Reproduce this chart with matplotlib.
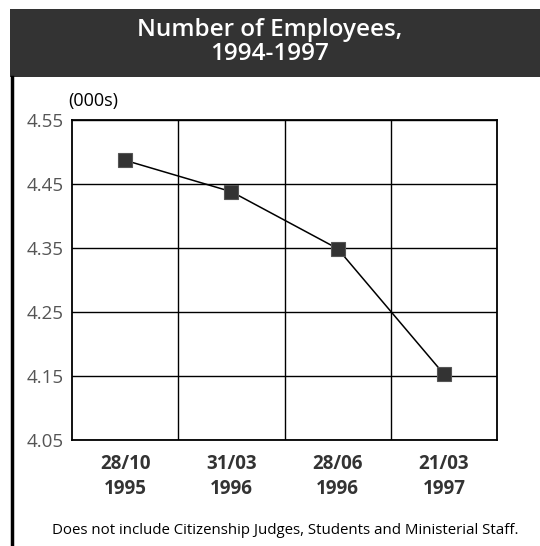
import matplotlib
matplotlib.use("Agg")
from matplotlib import pyplot as plt
from matplotlib.patches import Rectangle
from matplotlib.lines import Line2D

plt.rcParams['font.family'] = ['Open Sans', 'DejaVu Sans']

# staff counts in thousands
dates = ['28/10\n1995', '31/03\n1996', '28/06\n1996', '21/03\n1997']
employees = [4.487, 4.438, 4.349, 4.153]
y_ticks = [4.05, 4.15, 4.25, 4.35, 4.45, 4.55]

W, H = 540, 546
fig = plt.figure(figsize=(W / 100, H / 100), dpi=100)
fig.patch.set_facecolor('white')

# dark title banner and left rule
fig.patches.append(Rectangle((10 / W, 1 - 77 / H), 1 - 10 / W, 68 / H,
                             transform=fig.transFigure, facecolor='#333333',
                             edgecolor='none', zorder=0))
fig.lines.append(Line2D([12 / W, 12 / W], [0, 1 - 77 / H], transform=fig.transFigure,
                        color='black', linewidth=2.5))
fig.text(0.5, 1 - 42 / H, 'Number of Employees,\n1994-1997', color='white',
         fontsize=17.5, fontweight='semibold', ha='center', va='center',
         linespacing=1.05)

left, right, top, bottom = 72, 497, 120, 440
ax = fig.add_axes([left / W, 1 - bottom / H, (right - left) / W, (bottom - top) / H])

x = list(range(len(dates)))
ax.plot(x, employees, color='black', linewidth=1.1, marker='s', markersize=9.5,
        markerfacecolor='#333333', markeredgecolor='#555555', markeredgewidth=0.8,
        zorder=3)

ax.set_xlim(-0.5, len(dates) - 0.5)
ax.set_ylim(y_ticks[0], y_ticks[-1])
ax.set_yticks(y_ticks)
ax.set_yticklabels([f'{v:.2f}' for v in y_ticks], color='#555555', fontsize=13.5)
ax.set_xticks(x)
ax.set_xticklabels(dates, fontsize=13.5, fontweight='bold', color='#333333',
                   linespacing=1.35)
ax.set_xticks([i + 0.5 for i in x[:-1]], minor=True)
ax.tick_params(axis='both', which='both', length=0)
ax.tick_params(axis='x', pad=10)
ax.tick_params(axis='y', pad=6)
ax.grid(True, which='minor', axis='x', color='black', linewidth=1)
ax.grid(True, which='major', axis='y', color='black', linewidth=1)
ax.set_axisbelow(True)
for s in ax.spines.values():
    s.set_color('black')
    s.set_linewidth(1.3)

fig.text(68 / W, 1 - 101 / H, '(000s)', fontsize=13, ha='left', va='center')
fig.text(285 / W, 1 - 530 / H,
         'Does not include Citizenship Judges, Students and Ministerial Staff.',
         fontsize=10.8, ha='center', va='center')

fig.savefig('out.png', dpi=100)
